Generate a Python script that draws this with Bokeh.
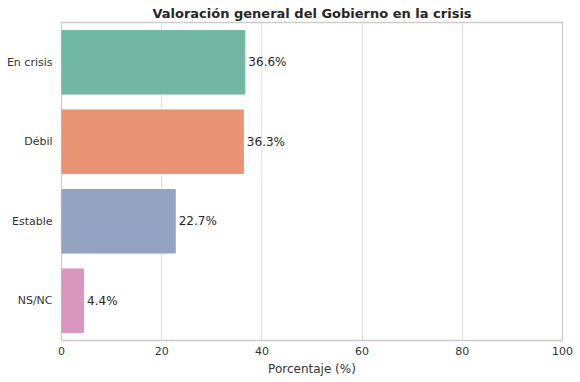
from bokeh.plotting import figure
from bokeh.models import ColumnDataSource, LabelSet, FixedTicker, Range1d
from bokeh.core.properties import value
from bokeh.embed import file_html
from bokeh.resources import INLINE

categories = ["En crisis", "Débil", "Estable", "NS/NC"]
values = [36.6, 36.3, 22.7, 4.4]
colors = ["#72b7a1", "#e99575", "#95a3c3", "#db96c0"]
x_ticks = [0, 20, 40, 60, 80, 100]

labels = [f"{v:.1f}%" for v in values]
src = ColumnDataSource(dict(cat=categories, val=values, col=colors, lab=labels,
                            lx=[v + 0.7 for v in values]))

p = figure(width=580, height=382, y_range=list(reversed(categories)),
           x_range=Range1d(0, 100), output_backend="svg", toolbar_location=None,
           title="Valoración general del Gobierno en la crisis")
p.min_border_left = 61
p.min_border_right = 18
p.min_border_top = 22
p.min_border_bottom = 42
p.background_fill_color = "white"
p.border_fill_color = "white"
p.outline_line_color = "#cccccc"
p.outline_line_width = 1.3

p.title.text_font = "DejaVu Sans"
p.title.text_font_size = "13px"
p.title.text_font_style = "bold"
p.title.text_color = "#262626"
p.title.align = "center"
p.title.standoff = 4
p.title.offset = 0

p.hbar(y="cat", right="val", left=0, height=0.8, fill_color="col",
       line_color="col", source=src)

ls = LabelSet(x="lx", y="cat", text="lab", source=src, text_baseline="middle",
              text_font_size=value("12px"), text_color="#262626",
              text_font=value("DejaVu Sans"))
p.add_layout(ls)

p.xaxis.ticker = FixedTicker(ticks=x_ticks)
p.xaxis.axis_label = "Porcentaje (%)"
for ax in (p.xaxis[0], p.yaxis[0]):
    ax.axis_line_color = None
    ax.major_tick_line_color = None
    ax.minor_tick_line_color = None
    ax.major_tick_out = 0
    ax.major_tick_in = 0
    ax.minor_tick_out = 0
    ax.major_label_text_font = "DejaVu Sans"
    ax.major_label_text_font_size = "11px"
    ax.major_label_text_color = "#333333"
p.xaxis.major_label_standoff = 6
p.yaxis.major_label_standoff = 9
p.xaxis.axis_label_text_font = "DejaVu Sans"
p.xaxis.axis_label_text_font_size = "12px"
p.xaxis.axis_label_text_font_style = "normal"
p.xaxis.axis_label_text_color = "#333333"
p.xaxis.axis_label_standoff = 4

p.ygrid.grid_line_color = None
p.xgrid.grid_line_color = "#e0e0e0"
p.xgrid.grid_line_width = 1.1

open("out.html", "w").write(file_html(p, INLINE))
